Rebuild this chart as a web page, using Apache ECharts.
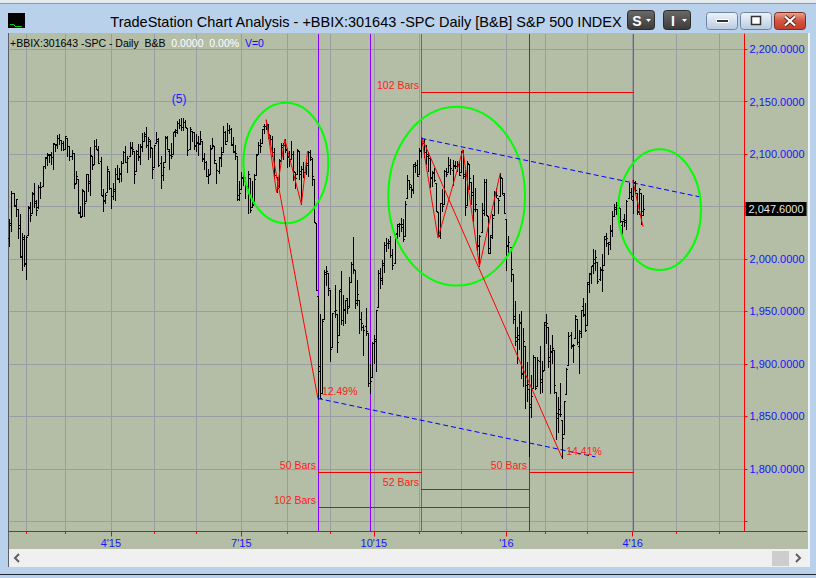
<!DOCTYPE html>
<html><head><meta charset="utf-8">
<script src="https://cdn.jsdelivr.net/npm/echarts@6.0.0/dist/echarts.min.js"></script>
<style>html,body{margin:0;padding:0;background:#b9d1ea;overflow:hidden}#c{width:816px;height:578px}</style>
</head><body><div id="c"></div>
<script>
// ---------------- DATA ----------------
const tradingDays = {
  '2015-01': [21,22,23,26,27,28,29,30],
  '2015-02': [2,3,4,5,6,9,10,11,12,13,17,18,19,20,23,24,25,26,27],
  '2015-03': [2,3,4,5,6,9,10,11,12,13,16,17,18,19,20,23,24,25,26,27,30,31],
  '2015-04': [1,2,6,7,8,9,10,13,14,15,16,17,20,21,22,23,24,27,28,29,30],
  '2015-05': [1,4,5,6,7,8,11,12,13,14,15,18,19,20,21,22,26,27,28,29],
  '2015-06': [1,2,3,4,5,8,9,10,11,12,15,16,17,18,19,22,23,24,25,26,29,30],
  '2015-07': [1,2,6,7,8,9,10,13,14,15,16,17,20,21,22,23,24,27,28,29,30,31],
  '2015-08': [3,4,5,6,7,10,11,12,13,14,17,18,19,20,21,24,25,26,27,28,31],
  '2015-09': [1,2,3,4,8,9,10,11,14,15,16,17,18,21,22,23,24,25,28,29,30],
  '2015-10': [1,2,5,6,7,8,9,12,13,14,15,16,19,20,21,22,23,26,27,28,29,30],
  '2015-11': [2,3,4,5,6,9,10,11,12,13,16,17,18,19,20,23,24,25,27,30],
  '2015-12': [1,2,3,4,7,8,9,10,11,14,15,16,17,18,21,22,23,24,28,29,30,31],
  '2016-01': [4,5,6,7,8,11,12,13,14,15,19,20,21,22,25,26,27,28,29],
  '2016-02': [1,2,3,4,5,8,9,10,11,12,16,17,18,19,22,23,24,25,26,29],
  '2016-03': [1,2,3,4,7,8,9,10,11,14,15,16,17,18,21,22,23,24,28,29,30,31],
  '2016-04': [1,4,5,6,7,8,11,12,13,14,15,18,19,20,21,22,25,26,27,28,29],
  '2016-05': [2,3,4,5,6,9,10,11,12,13,16,17,18,19,20,23,24,25,26,27,31],
  '2016-06': [1,2,3,6,7,8,9,10,13,14,15,16,17]
};

// daily bars [open, high, low, close], from 2015-01-21
const ohlc = [
[2020.19,2038.29,2012.04,2032.12],[2034.30,2064.62,2026.38,2063.15],[2062.98,2062.98,2050.54,2051.82],[2050.42,2057.62,2040.97,2057.09],
[2047.86,2047.86,2019.91,2029.55],[2032.34,2042.49,2001.49,2002.16],[2002.45,2024.64,1989.18,2021.25],[2019.35,2023.32,1993.38,1994.99],
// Feb 2015
[1996.67,2021.66,1980.90,2020.85],[2022.71,2050.30,2022.71,2050.03],[2048.86,2054.74,2036.72,2041.51],[2043.45,2063.55,2043.45,2062.52],
[2062.28,2072.40,2049.97,2055.47],[2053.47,2056.16,2041.88,2046.74],[2049.38,2070.86,2048.62,2068.59],[2068.55,2073.48,2057.99,2068.53],
[2069.98,2088.53,2069.98,2088.48],[2088.78,2097.03,2086.70,2096.99],[2096.47,2101.30,2089.80,2100.34],[2099.16,2100.23,2092.15,2099.68],
[2099.25,2102.13,2090.79,2097.45],[2097.65,2110.61,2085.44,2110.30],[2109.83,2110.05,2103.00,2109.66],[2109.10,2117.94,2105.87,2115.48],
[2115.30,2119.59,2109.89,2113.86],[2113.91,2113.91,2103.76,2110.74],[2110.88,2112.74,2103.75,2104.50],
// Mar 2015
[2105.23,2117.52,2104.50,2117.39],[2115.76,2115.76,2098.26,2107.78],[2107.72,2107.72,2094.49,2098.53],[2098.54,2104.25,2095.22,2101.04],
[2100.91,2100.91,2067.27,2071.26],[2072.25,2083.49,2072.21,2079.43],[2076.14,2076.14,2044.16,2044.16],[2044.69,2050.08,2039.69,2040.24],
[2041.10,2066.41,2041.10,2065.95],[2064.56,2064.56,2041.17,2053.40],[2055.35,2081.41,2055.35,2081.19],[2080.59,2080.59,2065.08,2074.28],
[2072.84,2106.85,2061.23,2099.50],[2098.69,2098.69,2085.56,2089.27],[2090.32,2113.92,2090.32,2108.10],[2107.99,2114.86,2104.42,2104.42],
[2103.94,2107.63,2091.50,2091.50],[2093.10,2097.43,2061.05,2061.05],[2059.94,2067.15,2045.50,2056.15],[2055.78,2062.83,2052.96,2061.02],
[2064.11,2088.97,2064.11,2086.24],[2084.05,2084.05,2067.04,2067.89],
// Apr 2015
[2067.63,2067.63,2048.38,2059.69],[2060.03,2072.17,2057.32,2066.96],[2064.87,2086.99,2056.52,2080.62],[2080.79,2089.81,2076.10,2076.33],
[2076.94,2086.69,2073.30,2081.90],[2081.29,2093.31,2074.29,2091.18],[2091.51,2102.61,2091.51,2102.06],[2102.03,2107.65,2092.33,2092.43],
[2092.28,2098.62,2083.24,2095.84],[2097.82,2111.91,2097.82,2106.63],[2105.96,2111.30,2100.02,2104.99],[2102.58,2102.58,2072.37,2081.18],
[2084.11,2103.94,2084.11,2100.40],[2102.82,2109.64,2094.38,2097.29],[2098.27,2109.98,2091.05,2107.96],[2107.21,2120.49,2103.19,2112.93],
[2112.80,2120.92,2112.80,2117.69],[2119.29,2125.92,2107.04,2108.92],[2108.35,2116.04,2094.89,2114.76],[2112.49,2113.65,2097.41,2106.85],
[2105.52,2105.52,2077.59,2085.51],
// May 2015
[2087.38,2108.41,2087.38,2108.29],[2110.23,2120.95,2110.23,2114.49],[2112.63,2115.24,2088.46,2089.46],[2091.26,2098.42,2067.93,2080.15],
[2079.96,2092.90,2074.99,2088.00],[2092.13,2117.66,2092.13,2116.10],[2115.56,2117.69,2104.58,2105.33],[2102.87,2105.06,2085.57,2099.12],
[2099.62,2110.19,2096.04,2098.48],[2100.43,2121.45,2100.43,2121.10],[2122.07,2123.89,2116.81,2122.73],[2121.30,2131.78,2120.01,2129.20],
[2129.45,2133.02,2124.50,2127.83],[2127.79,2134.72,2122.59,2125.85],[2125.55,2134.28,2122.95,2130.82],[2130.36,2132.15,2126.06,2126.06],
[2125.34,2125.34,2099.18,2104.20],[2105.13,2126.22,2105.13,2123.48],[2122.27,2122.27,2112.86,2120.79],[2120.66,2120.66,2104.89,2107.39],
// Jun 2015
[2108.64,2119.15,2102.54,2111.73],[2110.41,2117.59,2099.14,2109.60],[2110.64,2121.92,2109.61,2114.07],[2112.35,2112.89,2093.23,2095.84],
[2095.09,2100.99,2085.67,2092.83],[2092.34,2093.01,2079.11,2079.28],[2079.07,2085.62,2072.14,2080.15],[2081.12,2108.50,2081.12,2105.20],
[2106.24,2115.02,2106.24,2108.86],[2107.43,2107.43,2091.33,2094.11],[2091.34,2091.34,2072.49,2084.43],[2084.26,2097.40,2082.10,2096.29],
[2097.40,2106.79,2088.86,2100.44],[2101.58,2126.65,2101.58,2121.24],[2121.06,2121.64,2109.45,2109.99],[2112.50,2129.87,2112.50,2122.85],
[2123.16,2128.03,2119.89,2124.20],[2123.65,2125.10,2108.58,2108.58],[2109.96,2116.04,2101.78,2102.31],[2102.62,2108.92,2095.38,2101.49],
[2098.63,2098.63,2056.64,2057.64],[2061.19,2074.28,2056.32,2063.11],
// Jul 2015
[2067.00,2082.78,2067.00,2077.42],[2078.03,2085.06,2071.02,2076.78],[2073.95,2078.61,2058.40,2068.76],[2069.52,2083.74,2044.02,2081.34],
[2077.66,2077.66,2044.66,2046.68],[2049.73,2074.28,2049.73,2051.31],[2052.74,2081.31,2052.74,2076.62],[2080.03,2099.88,2080.03,2099.60],
[2099.72,2111.98,2099.72,2108.95],[2109.01,2114.14,2102.49,2107.40],[2110.55,2124.42,2110.55,2124.29],[2126.80,2128.91,2119.88,2126.64],
[2126.85,2132.82,2123.66,2128.28],[2127.55,2128.49,2115.40,2119.21],[2118.21,2118.51,2110.00,2114.15],[2114.16,2116.87,2098.63,2102.15],
[2102.24,2106.01,2077.09,2079.65],[2078.19,2078.19,2063.52,2067.64],[2070.75,2095.60,2069.09,2093.25],[2094.70,2110.60,2094.08,2108.57],
[2106.78,2110.48,2094.97,2108.63],[2111.60,2114.24,2102.07,2103.84],
// Aug 2015
[2104.49,2105.70,2087.31,2098.04],[2097.68,2102.51,2088.60,2093.32],[2095.27,2112.66,2095.27,2099.84],[2100.08,2103.32,2075.53,2083.56],
[2082.61,2082.61,2067.91,2077.57],[2080.98,2105.35,2080.98,2104.18],[2102.66,2102.66,2076.49,2084.07],[2081.10,2089.06,2052.09,2086.05],
[2086.19,2092.93,2078.26,2083.39],[2083.15,2092.45,2080.61,2091.54],[2089.70,2102.87,2079.30,2102.44],[2101.99,2103.47,2094.14,2096.92],
[2095.69,2096.17,2070.53,2079.61],[2076.61,2076.61,2035.73,2035.73],[2034.08,2034.08,1970.89,1970.89],[1965.15,1965.15,1867.01,1893.21],
[1898.08,1948.04,1867.08,1867.61],[1872.75,1943.09,1872.75,1940.51],[1942.77,1989.60,1942.77,1987.66],[1986.06,1993.48,1975.19,1988.87],
[1986.73,1986.73,1965.98,1972.18],
// Sep 2015
[1970.09,1970.09,1903.07,1913.85],[1916.52,1948.91,1916.52,1948.86],[1950.79,1975.01,1944.72,1951.13],[1947.76,1947.76,1911.21,1921.22],
[1927.30,1970.42,1927.30,1969.41],[1971.45,1988.63,1937.88,1942.04],[1941.59,1965.29,1937.19,1952.29],[1951.45,1961.05,1939.19,1961.05],
[1963.06,1963.06,1948.27,1953.03],[1955.10,1983.19,1954.30,1978.09],[1978.02,1997.26,1977.93,1995.31],[1995.33,2020.86,1986.73,1990.20],
[1989.66,1989.66,1953.45,1958.03],[1960.84,1979.64,1955.80,1966.97],[1961.39,1961.39,1929.22,1942.74],[1943.24,1949.52,1932.57,1938.76],
[1934.81,1937.17,1908.92,1932.24],[1935.93,1952.89,1928.06,1931.34],[1929.18,1929.18,1879.21,1881.77],[1881.90,1899.48,1871.91,1884.09],
[1887.14,1920.53,1887.14,1920.03],
// Oct 2015
[1919.65,1927.21,1900.70,1923.82],[1921.77,1951.36,1893.70,1951.36],[1954.33,1989.17,1954.33,1987.05],[1986.63,1991.62,1971.99,1979.92],
[1982.34,1999.31,1976.44,1995.83],[1994.01,2016.50,1987.53,2013.43],[2013.73,2020.13,2007.61,2014.89],[2015.65,2018.66,2010.55,2017.46],
[2015.00,2022.34,2001.78,2003.69],[2003.66,2009.56,1990.73,1994.24],[1996.47,2024.15,1996.47,2023.86],[2024.37,2033.54,2020.46,2033.11],
[2031.73,2034.45,2022.31,2033.66],[2033.13,2039.12,2026.61,2030.77],[2033.47,2037.97,2017.22,2018.94],[2021.88,2055.20,2021.88,2052.51],
[2058.19,2079.74,2058.19,2075.15],[2075.08,2075.14,2066.53,2071.18],[2068.75,2070.37,2058.84,2065.89],[2066.48,2090.35,2063.11,2090.35],
[2088.35,2092.52,2082.63,2089.41],[2090.00,2094.32,2079.34,2079.36],
// Nov 2015
[2080.76,2106.20,2080.76,2104.05],[2102.63,2116.48,2097.51,2109.79],[2110.60,2114.59,2096.98,2102.31],[2101.68,2108.78,2090.41,2099.93],
[2098.60,2101.91,2083.74,2099.20],[2096.56,2096.56,2068.24,2078.58],[2077.19,2083.67,2069.91,2081.72],[2083.41,2086.94,2074.85,2075.00],
[2072.29,2072.29,2045.66,2045.97],[2044.64,2044.64,2022.02,2023.04],[2022.08,2053.22,2019.94,2053.19],[2053.67,2066.69,2045.90,2050.44],
[2051.99,2085.31,2051.99,2083.58],[2083.70,2086.74,2078.76,2081.24],[2082.82,2097.06,2082.82,2089.17],[2089.41,2095.61,2081.39,2086.59],
[2084.42,2094.12,2070.29,2089.14],[2089.30,2093.00,2086.30,2088.87],[2088.82,2093.29,2084.13,2090.11],[2090.95,2093.81,2080.41,2080.41],
// Dec 2015
[2082.93,2103.37,2082.93,2102.63],[2101.71,2104.27,2077.11,2079.51],[2080.71,2085.00,2042.35,2049.62],[2051.24,2093.84,2051.24,2091.69],
[2090.42,2090.42,2066.78,2077.07],[2073.39,2073.85,2052.32,2063.59],[2061.17,2080.33,2036.53,2047.62],[2047.93,2067.65,2045.67,2052.23],
[2047.27,2047.27,2008.80,2012.37],[2013.37,2022.92,1993.26,2021.94],[2025.55,2053.87,2025.55,2043.41],[2046.50,2076.72,2042.43,2073.07],
[2073.76,2076.37,2041.66,2041.89],[2040.81,2040.81,2005.33,2005.55],[2010.27,2022.90,2005.93,2021.15],[2023.15,2042.74,2020.49,2038.97],
[2042.20,2064.73,2042.20,2064.29],[2063.52,2067.36,2058.73,2060.99],[2057.77,2057.77,2044.20,2056.50],[2060.54,2081.56,2060.54,2078.36],
[2077.34,2077.34,2061.97,2063.36],[2060.59,2062.54,2043.62,2043.94],
// Jan 2016
[2038.20,2038.20,1989.68,2012.66],[2013.78,2021.94,2004.17,2016.71],[2011.71,2011.71,1979.05,1990.26],[1985.32,1985.32,1938.83,1943.09],
[1945.97,1960.40,1918.46,1922.03],[1926.12,1935.65,1901.10,1923.67],[1927.83,1947.38,1914.35,1938.68],[1940.34,1950.33,1886.41,1890.28],
[1891.68,1934.47,1878.93,1921.84],[1916.68,1916.68,1857.83,1880.33],[1888.66,1901.44,1864.60,1881.33],[1876.18,1876.18,1812.29,1859.33],
[1861.46,1889.85,1848.98,1868.99],[1877.40,1908.85,1877.40,1906.90],[1906.28,1906.28,1875.97,1877.08],[1878.79,1906.73,1878.79,1903.63],
[1902.52,1916.99,1872.70,1882.95],[1885.22,1902.96,1873.65,1893.36],[1894.00,1940.24,1894.00,1940.24],
// Feb 2016
[1936.94,1947.20,1920.03,1939.38],[1935.26,1935.26,1897.29,1903.03],[1907.07,1918.01,1872.23,1912.53],[1911.67,1927.35,1900.52,1915.45],
[1913.07,1913.07,1872.65,1880.05],[1873.25,1873.25,1828.46,1853.44],[1848.46,1868.25,1834.94,1852.21],[1857.10,1881.60,1850.32,1851.86],
[1847.00,1847.00,1810.10,1829.08],[1833.40,1864.78,1833.40,1864.78],[1871.44,1895.77,1871.44,1895.58],[1898.80,1930.68,1898.80,1926.82],
[1927.57,1930.00,1915.09,1917.83],[1916.74,1918.78,1902.17,1917.78],[1924.44,1946.70,1924.44,1945.50],[1942.38,1942.38,1919.44,1921.27],
[1917.56,1932.08,1891.00,1929.80],[1931.87,1951.83,1925.41,1951.70],[1954.95,1962.96,1945.78,1948.05],[1947.13,1958.27,1931.81,1932.23],
// Mar 2016
[1937.09,1978.35,1937.09,1978.35],[1976.60,1986.51,1968.80,1986.45],[1985.60,1993.69,1977.37,1993.40],[1994.01,2009.13,1986.77,1999.99],
[1996.11,2008.16,1989.30,2001.76],[1996.88,1996.88,1977.43,1979.26],[1981.44,1992.69,1979.84,1989.26],[1990.97,2005.08,1969.25,1989.57],
[1994.71,2022.37,1994.71,2022.19],[2019.27,2024.57,2012.05,2019.64],[2015.27,2015.94,2005.23,2015.93],[2014.24,2032.02,2010.04,2027.22],
[2026.90,2046.24,2022.16,2040.59],[2041.16,2052.36,2041.16,2049.58],[2047.88,2053.91,2043.14,2051.60],[2048.64,2056.60,2040.57,2049.80],
[2048.55,2048.55,2034.86,2036.71],[2032.48,2036.04,2022.49,2035.94],[2037.89,2042.67,2031.96,2037.05],[2035.75,2055.91,2028.31,2055.01],
[2058.27,2072.21,2058.27,2063.95],[2063.77,2067.92,2057.46,2059.74],
// Apr 2016
[2056.62,2075.07,2043.98,2072.78],[2073.19,2074.02,2062.57,2066.13],[2062.50,2062.50,2042.56,2045.17],[2045.56,2067.33,2043.09,2066.66],
[2063.01,2063.01,2033.80,2041.91],[2045.54,2060.63,2041.69,2047.60]
];

const monthStarts = ['2015-02-02','2015-03-02','2015-04-01','2015-05-01','2015-06-01','2015-07-01','2015-08-03','2015-09-01',
  '2015-10-01','2015-11-02','2015-12-01','2016-01-04','2016-02-01','2016-03-01','2016-04-01','2016-05-02','2016-06-01'];
const xLabelDates = ['2015-04-01','2015-07-01','2015-10-01','2016-01-04','2016-04-01'];
const xLabelTexts = ["4'15", "7'15", "10'15", "'16", "4'16"];
const yTickValues = [1750,1800,1850,1900,1950,2000,2050,2100,2150,2200];
const yLabelValues = [1800,1850,1900,1950,2000,2050,2100,2150,2200];
const lastPrice = 2047.60;

const vLineDates = ['2015-08-24','2015-09-29','2015-11-03','2016-01-20','2016-04-01'];
const zigzag1 = [['2015-07-20',2132.82],['2015-07-27',2063.52],['2015-07-31',2114.24],['2015-08-12',2052.09],['2015-08-17',2102.87]];
const swing1 = [['2015-07-20',2132.82],['2015-08-24',1867.01]];
const zigzag2 = [['2015-11-03',2116.48],['2015-11-13',2020.0],['2015-12-02',2104.27],['2015-12-14',1993.26],['2015-12-29',2081.56]];
const swing2 = [['2015-11-03',2116.48],['2016-02-11',1810.10]];
const swing3 = [['2016-04-01',2075.07],['2016-04-08',2030.7]];
const trendUpper = [['2015-11-03',2115.0],['2016-05-17',2059.4]];
const trendLower = [['2015-08-24',1867.1],['2016-03-07',1811.4]];
const ellipses = [ // left date, top price, right date, bottom price
  ['2015-07-02',2149.0,'2015-08-31',2034.0],
  ['2015-10-12',2145.2,'2016-01-15',1974.7],
  ['2016-03-22',2104.6,'2016-05-18',1989.5]
];
const barCountRanges = [ // start date, end date, price level
  ['2015-11-03','2016-04-01',2158.9],
  ['2015-08-24','2015-11-03',1797.1],
  ['2016-01-20','2016-04-01',1797.1],
  ['2015-11-03','2016-01-20',1780.4],
  ['2015-08-24','2016-01-20',1763.2]
];
const barCountTexts = ['102 Bars','50 Bars','50 Bars','52 Bars','102 Bars'];
const noteAnchors = [['2015-08-24',1867.01],['2016-02-11',1810.10],['2015-05-19',2152.5]];
const noteTexts = ['12.49%','14.41%','(5)'];

// ---------------- BUILD ----------------
const dates = [];
Object.keys(tradingDays).forEach(m => tradingDays[m].forEach(d => dates.push(m + '-' + (d < 10 ? '0' + d : d))));
const ix = d => dates.indexOf(d);
const monthSet = new Set(monthStarts);
const labelMap = {}; xLabelDates.forEach((d, i) => labelMap[d] = xLabelTexts[i]);
const labelSet = new Set(xLabelDates);
const fmt4 = v => Number(v).toLocaleString('en-US', {minimumFractionDigits: 4, maximumFractionDigits: 4});

const FONT = '"Liberation Sans", Arial, sans-serif';
const SAGE = '#b4bda6', GRID = '#9b9ba4', RED = '#ff0000', BLUE = '#1414ff';
const vLineColors = ['#8a00ff', '#8a00ff', '#ff00ff', '#8a00ff', '#ff00ff'];
const barCountColor = '#f00000';
const noteStyles = [
  {dx: 4, dy: -7.5, fill: '#ff2020', align: 'left', size: 10.5},
  {dx: 4, dy: -7.5, fill: '#ff2020', align: 'left', size: 10.5},
  {dx: 0, dy: 0, fill: '#1a1aff', align: 'center', size: 12}
];
const toPts = arr => arr.map(p => [ix(p[0]), p[1]]);

function lineSeries(pts, color, dashed) {
  return {type: 'line', data: toPts(pts), xAxisIndex: 0, yAxisIndex: 0, showSymbol: false, symbol: 'none',
    silent: true, z: 4, lineStyle: {color: color, width: 1, type: dashed ? [5, 3] : 'solid'}};
}

const chart = echarts.init(document.getElementById('c'), null, {renderer: 'svg'});

const btnDark = new echarts.graphic.LinearGradient(0, 0, 0, 1, [{offset: 0, color: '#6a6a6a'}, {offset: 1, color: '#3a3a3a'}]);
const btnLight = () => new echarts.graphic.LinearGradient(0, 0, 0, 1, [{offset: 0, color: '#eef3f9'}, {offset: 0.5, color: '#d4e0ee'}, {offset: 1, color: '#b8cadf'}]);
const btnRed = new echarts.graphic.LinearGradient(0, 0, 0, 1, [{offset: 0, color: '#e9a493'}, {offset: 0.5, color: '#d2553f'}, {offset: 1, color: '#c23d28'}]);

const chrome = [
  {type: 'rect', z: -20, shape: {x: 0, y: 0, width: 816, height: 578}, style: {fill: '#b9d1ea'}},
  {type: 'rect', z: -19, shape: {x: 0, y: 0, width: 816, height: 3}, style: {fill: '#e6ebf0'}},
  {type: 'line', z: -19, shape: {x1: 0, y1: 3.5, x2: 816, y2: 3.5}, style: {stroke: '#8c9aa8', lineWidth: 1}},
  {type: 'rect', z: -19, shape: {x: 8, y: 13, width: 17, height: 15}, style: {fill: '#000'}},
  {type: 'polyline', z: -18, shape: {points: [[10, 24.5], [14, 24.5], [15, 26.5], [22, 26.5]]}, style: {stroke: '#00d000', fill: null, lineWidth: 1}},
  {type: 'text', z: -18, x: 366, y: 22, style: {text: 'TradeStation Chart Analysis - +BBIX:301643 -SPC Daily [B&B] S&P 500 INDEX',
    font: '14.5px ' + FONT, fill: '#000', align: 'center', verticalAlign: 'middle'}},
  // S / I buttons
  {type: 'rect', z: -19, shape: {x: 627.5, y: 10.5, width: 27, height: 19, r: 3}, style: {fill: btnDark, stroke: '#2c2c2c', lineWidth: 1}},
  {type: 'text', z: -18, x: 637, y: 20.5, style: {text: 'S', font: 'bold 14px ' + FONT, fill: '#fff', align: 'center', verticalAlign: 'middle'}},
  {type: 'polygon', z: -18, shape: {points: [[646, 19], [651, 19], [648.5, 22]]}, style: {fill: '#fff'}},
  {type: 'rect', z: -19, shape: {x: 663.5, y: 10.5, width: 27, height: 19, r: 3}, style: {fill: btnDark, stroke: '#2c2c2c', lineWidth: 1}},
  {type: 'text', z: -18, x: 673, y: 20.5, style: {text: 'I', font: 'bold 14px ' + FONT, fill: '#fff', align: 'center', verticalAlign: 'middle'}},
  {type: 'polygon', z: -18, shape: {points: [[682, 19], [687, 19], [684.5, 22]]}, style: {fill: '#fff'}},
  // window buttons
  {type: 'rect', z: -19, shape: {x: 706.5, y: 12.5, width: 31, height: 17, r: 3}, style: {fill: btnLight(), stroke: '#6f86a2', lineWidth: 1}},
  {type: 'rect', z: -18, shape: {x: 716.5, y: 19.5, width: 12, height: 3}, style: {fill: '#333', stroke: '#fff', lineWidth: 1}},
  {type: 'rect', z: -19, shape: {x: 740.5, y: 12.5, width: 31, height: 17, r: 3}, style: {fill: btnLight(), stroke: '#6f86a2', lineWidth: 1}},
  {type: 'rect', z: -18, shape: {x: 751.5, y: 16.5, width: 9, height: 8}, style: {fill: '#fff', stroke: '#333', lineWidth: 1.5}},
  {type: 'rect', z: -19, shape: {x: 774.5, y: 12.5, width: 31, height: 17, r: 3}, style: {fill: btnRed, stroke: '#7e2d20', lineWidth: 1}},
  {type: 'line', z: -18, shape: {x1: 785, y1: 16.5, x2: 795, y2: 25.5}, style: {stroke: '#5a2018', lineWidth: 4}},
  {type: 'line', z: -18, shape: {x1: 795, y1: 16.5, x2: 785, y2: 25.5}, style: {stroke: '#5a2018', lineWidth: 4}},
  {type: 'line', z: -17, shape: {x1: 785, y1: 16.5, x2: 795, y2: 25.5}, style: {stroke: '#fff', lineWidth: 2.2}},
  {type: 'line', z: -17, shape: {x1: 795, y1: 16.5, x2: 785, y2: 25.5}, style: {stroke: '#fff', lineWidth: 2.2}},
  // chart panel
  {type: 'rect', z: -19, shape: {x: 8, y: 33, width: 800, height: 516}, style: {fill: SAGE}},
  {type: 'line', z: -18, shape: {x1: 8.5, y1: 33, x2: 8.5, y2: 567}, style: {stroke: '#5b6068', lineWidth: 1}},
  {type: 'rect', z: -19, shape: {x: 808, y: 33, width: 2, height: 534}, style: {fill: '#eef3f9'}},
  // scrollbar
  {type: 'rect', z: -19, shape: {x: 9, y: 549, width: 799, height: 18}, style: {fill: '#f0f0f0'}},
  {type: 'polyline', z: -18, shape: {points: [[19, 554], [15, 558], [19, 562]]}, style: {stroke: '#606060', fill: null, lineWidth: 2}},
  {type: 'polyline', z: -18, shape: {points: [[796, 554], [800, 558], [796, 562]]}, style: {stroke: '#606060', fill: null, lineWidth: 2}},
  {type: 'rect', z: -18, shape: {x: 772, y: 551, width: 17, height: 15}, style: {fill: '#cdcdcd'}},
  {type: 'line', z: -18, shape: {x1: 0, y1: 574.5, x2: 816, y2: 574.5}, style: {stroke: '#1d2630', lineWidth: 1}},
  // x-axis line extension across the panel
  {type: 'line', z: 1, shape: {x1: 8, y1: 531.5, x2: 807, y2: 531.5}, style: {stroke: RED, lineWidth: 1}},
  // header line
  {type: 'text', z: 5, x: 10, y: 43, style: {
    text: '{k|+BBIX:301643 -SPC - Daily  B&B}  {w|0.0000}  {w|0.00%}  {b|V=0}',
    font: '10.5px ' + FONT, verticalAlign: 'middle',
    rich: {k: {fill: '#000', font: '10.5px ' + FONT}, w: {fill: '#ffffff', font: '10.5px ' + FONT}, b: {fill: '#1010ff', font: '10.5px ' + FONT}}}}
];

const option = {
  animation: false,
  backgroundColor: 'transparent',
  textStyle: {fontFamily: FONT},
  graphic: {elements: chrome},
  grid: {left: 9.4, right: 71.5, top: 34, bottom: 46.5, show: false, containLabel: false, outerBoundsMode: 'none'},
  xAxis: [
    {type: 'category', data: dates, boundaryGap: false, position: 'bottom',
      axisLine: {show: true, onZero: false, lineStyle: {color: RED, width: 1}},
      axisTick: {show: true, length: 5, interval: (i, v) => labelSet.has(v), lineStyle: {color: RED, width: 1}},
      axisLabel: {show: true, interval: (i, v) => labelSet.has(v), formatter: v => labelMap[v] || '',
        color: BLUE, fontSize: 11, fontFamily: FONT, margin: 6},
      splitLine: {show: true, interval: (i, v) => monthSet.has(v), lineStyle: {color: GRID, width: 1}}},
    {type: 'category', data: dates, boundaryGap: false, position: 'bottom',
      axisLine: {show: false, onZero: false},
      axisTick: {show: true, length: 2.5, interval: (i, v) => monthSet.has(v), lineStyle: {color: RED, width: 1}},
      axisLabel: {show: false}, splitLine: {show: false}}
  ],
  yAxis: {type: 'value', position: 'right', min: 1740.3, max: 2214.5,
    axisLine: {show: true, onZero: false, lineStyle: {color: RED, width: 1}},
    axisTick: {show: true, length: 3, customValues: yTickValues, lineStyle: {color: RED, width: 1}},
    axisLabel: {show: true, customValues: yLabelValues, formatter: fmt4, color: BLUE, fontSize: 11, fontFamily: FONT, margin: 5},
    splitLine: {show: true, lineStyle: {color: GRID, width: 1}}},
  series: [
    // vertical time markers (1px filled rects)
    {type: 'custom', coordinateSystem: 'cartesian2d', z: 1, silent: true,
      data: vLineDates.map(d => [ix(d)]), encode: {x: 0},
      renderItem: (params, api) => {
        const p = api.coord([api.value(0), 2000]);
        const cs = params.coordSys;
        return {type: 'rect', shape: {x: Math.round(p[0]), y: cs.y, width: 1, height: cs.height},
          style: {fill: vLineColors[params.dataIndex], stroke: null}};
      }},
    // OHLC bars
    {type: 'custom', coordinateSystem: 'cartesian2d', z: 2, silent: true,
      data: ohlc.map((r, i) => [i, r[0], r[1], r[2], r[3]]), encode: {x: 0, y: [1, 2, 3, 4]},
      renderItem: (params, api) => {
        const i = api.value(0);
        const pO = api.coord([i, api.value(1)]), pH = api.coord([i, api.value(2)]);
        const pL = api.coord([i, api.value(3)]), pC = api.coord([i, api.value(4)]);
        const x = Math.round(pH[0]) + 0.5;
        const yH = Math.round(pH[1]), yL = Math.round(pL[1]) + 1;
        const yO = Math.round(pO[1]) + 0.5, yC = Math.round(pC[1]) + 0.5;
        const st = {stroke: '#000', lineWidth: 1};
        return {type: 'group', children: [
          {type: 'line', shape: {x1: x, y1: yH, x2: x, y2: yL}, style: st},
          {type: 'line', shape: {x1: x - 1.5, y1: yO, x2: x, y2: yO}, style: st},
          {type: 'line', shape: {x1: x, y1: yC, x2: x + 1.5, y2: yC}, style: st}
        ]};
      }},
    // ellipses
    {type: 'custom', coordinateSystem: 'cartesian2d', z: 3, silent: true,
      data: ellipses.map(e => [ix(e[0]), e[1], ix(e[2]), e[3]]), encode: {x: [0, 2], y: [1, 3]},
      renderItem: (params, api) => {
        const p1 = api.coord([api.value(0), api.value(1)]);
        const p2 = api.coord([api.value(2), api.value(3)]);
        return {type: 'ellipse', shape: {cx: (p1[0] + p2[0]) / 2, cy: (p1[1] + p2[1]) / 2,
          rx: Math.abs(p2[0] - p1[0]) / 2, ry: Math.abs(p2[1] - p1[1]) / 2},
          style: {fill: null, stroke: '#00ff00', lineWidth: 2}};
      }},
    lineSeries(zigzag1, RED, false),
    lineSeries(swing1, RED, false),
    lineSeries(zigzag2, RED, false),
    lineSeries(swing2, RED, false),
    lineSeries(swing3, RED, false),
    lineSeries(trendUpper, '#0000ff', true),
    lineSeries(trendLower, '#0000ff', true),
    // bar-count measurements
    {type: 'custom', coordinateSystem: 'cartesian2d', z: 4, silent: true,
      data: barCountRanges.map(b => [ix(b[0]), ix(b[1]), b[2]]), encode: {x: [0, 1], y: 2},
      renderItem: (params, api) => {
        const v = api.value(2);
        const p1 = api.coord([api.value(0), v]), p2 = api.coord([api.value(1), v]);
        const x1 = Math.round(p1[0]), x2 = Math.round(p2[0]), y = Math.round(p1[1]);
        return {type: 'group', children: [
          {type: 'rect', shape: {x: x1, y: y, width: x2 - x1 + 1, height: 1}, style: {fill: barCountColor, stroke: null}},
          {type: 'text', x: x1 - 2, y: y - 7.5, style: {text: barCountTexts[params.dataIndex], fill: '#ff2020',
            font: '10.5px ' + FONT, align: 'right', verticalAlign: 'middle'}}
        ]};
      }},
    // text notes
    {type: 'custom', coordinateSystem: 'cartesian2d', z: 5, silent: true,
      data: noteAnchors.map(n => [ix(n[0]), n[1]]), encode: {x: 0, y: 1},
      renderItem: (params, api) => {
        const p = api.coord([api.value(0), api.value(1)]);
        const s = noteStyles[params.dataIndex];
        return {type: 'text', x: p[0] + s.dx, y: p[1] + s.dy, style: {text: noteTexts[params.dataIndex], fill: s.fill,
          font: s.size + 'px ' + FONT, align: s.align, verticalAlign: 'middle'}};
      }},
    // last price marker
    {type: 'line', data: [], z: 6, silent: true,
      markLine: {silent: true, symbol: ['none', 'none'], animation: false,
        data: [{yAxis: lastPrice}],
        lineStyle: {color: 'rgba(0,0,0,0)', width: 1, opacity: 1},
        label: {show: true, position: 'end', distance: 1, formatter: p => fmt4(p.value), opacity: 1,
          backgroundColor: '#000', color: '#e6e6e6', padding: [1, 3, 1, 3], fontSize: 11, fontFamily: FONT, lineHeight: 12}}}
  ]
};
chart.setOption(option);
</script></body></html>
